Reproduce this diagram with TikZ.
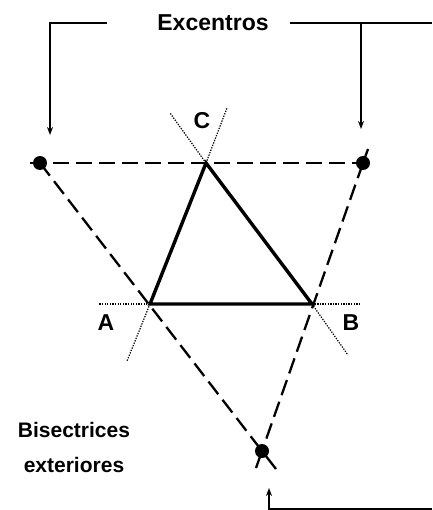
\documentclass[tikz,border=0pt]{standalone}
\usepackage{fontspec}
\setmainfont{Liberation Sans}
\usetikzlibrary{arrows.meta,calc}
\tikzset{
  lbl/.style={font=\bfseries\fontsize{23}{27}\selectfont, inner sep=0pt, anchor=center},
  side/.style={line width=3.4pt, line join=miter},
  exbis/.style={line width=2.3pt, dash pattern=on 16pt off 7pt},
  ext/.style={line width=1.2pt, dash pattern=on 1.3pt off 1.3pt},
  dot/.style={circle, fill=black, inner sep=0pt, minimum size=14pt},
  pointer/.style={line width=1.4pt, -{Stealth[length=8pt,width=6pt]}},
  plain/.style={line width=1.4pt}
}
\begin{document}
\begin{tikzpicture}[x=1pt,y=-1pt]
\useasboundingbox (0,0) rectangle (432,510);
% triangle vertices
\coordinate (A) at (150,304);
\coordinate (B) at (312,304);
\coordinate (C) at (206,163);
% excentres
\node[dot] (IL) at (40,163) {};
\node[dot] (IR) at (363,163) {};
\node[dot] (IB) at (262,451) {};
% extension end points
\coordinate (topL) at (30,163);
\coordinate (lExt) at (276,469);
\coordinate (rUp) at (368,149);
\coordinate (rExt) at (256,468);
% dotted side extensions
\coordinate (cUL) at (170,113);
\coordinate (cUR) at (227,108);
\coordinate (aL) at (99,304);
\coordinate (aD) at (127,361);
\coordinate (bR) at (360,304);
\coordinate (bD) at (348,355);
\draw[ext] (C) -- (cUL);
\draw[ext] (C) -- (cUR);
\draw[ext] (A) -- (aL);
\draw[ext] (A) -- (aD);
\draw[ext] (B) -- (bR);
\draw[ext] (B) -- (bD);
% exterior bisectors
\draw[exbis] (topL) -- (IL.center) -- (IR.center);
\draw[exbis] (IL.center) -- (IB.center);
\draw[line width=2.3pt] (IB.center) -- (lExt);
\draw[exbis] (rUp) -- (IR.center);
\draw[exbis] (IR.center) -- (IB.center);
\draw[line width=2.3pt] (IB.center) -- (rExt);
% triangle
\draw[side] (A) -- (B) -- (C) -- cycle;
% labels
\node[lbl] (lA) at (106,323) {A};
\node[lbl] (lB) at (351,323) {B};
\node[lbl] (lC) at (202,121) {C};
\node[lbl] (ex) at (213,23) {Excentros};
\node[lbl, align=center, font=\bfseries\fontsize{21}{35}\selectfont] (bis) at (74,447) {Bisectrices\\exteriores};
% pointers
\coordinate (pL1) at (107,23);
\coordinate (pL2) at (50,135);
\coordinate (pR1) at (290,23);
\coordinate (pR2) at (432,23);
\coordinate (pRb) at (361,23);
\coordinate (pR3) at (361,129);
\coordinate (pB1) at (432,509);
\coordinate (pB2) at (269,488);
\draw[pointer] (pL1) -| (pL2);
\draw[plain] (pR1) -- (pR2);
\draw[pointer] (pRb) -- (pR3);
\draw[pointer] (pB1) -| (pB2);
\end{tikzpicture}
\end{document}
